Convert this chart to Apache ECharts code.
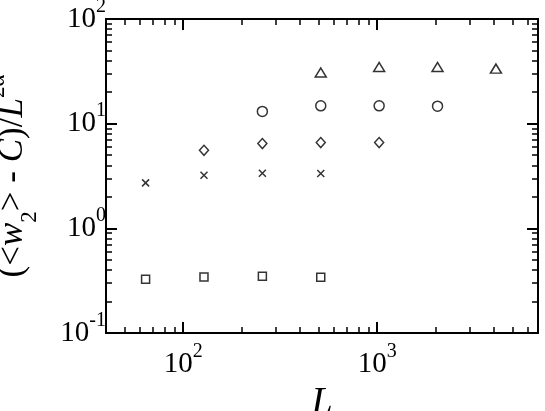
<!DOCTYPE html>
<html>
<head>
<meta charset="utf-8">
<script src="https://cdn.jsdelivr.net/npm/echarts@6/dist/echarts.min.js"></script>
<style>
    html, body { margin: 0; padding: 0; background: #fff; }
    .layer { width: 545px; height: 411px; position: absolute; left: 0; top: 0; }
    #ticks { pointer-events: none; }
</style>
</head>
<body>
<div class="layer" id="chart"></div>
<div class="layer" id="ticks"></div>
<script>
    // data
    const squareData = [[64, 0.327], [128, 0.342], [256, 0.348], [512, 0.340]];
    const crossData = [[64, 2.72], [128, 3.22], [256, 3.36], [512, 3.34]];
    const diamondData = [[128, 5.57], [256, 6.46], [512, 6.60], [1024, 6.60]];
    const circleData = [[256, 13.1], [512, 14.8], [1024, 14.8], [2048, 14.7]];
    const triangleData = [[512, 30.8], [1024, 34.8], [2048, 34.8], [4096, 33.6]];

    // ticks
    const xMajor = [100, 1000];
    const xMinor = [50, 60, 70, 80, 90, 200, 300, 400, 500, 600, 700, 800, 900, 2000, 3000, 4000, 5000, 6000];
    const yMajor = [0.1, 1, 10, 100];
    const yMinor = [0.2, 0.3, 0.4, 0.5, 0.6, 0.7, 0.8, 0.9, 2, 3, 4, 5, 6, 7, 8, 9, 20, 30, 40, 50, 60, 70, 80, 90];

    const xMin = 40, xMax = 6750;
    const yMin = 0.1, yMax = 100;

    const font = 'Liberation Serif';
    const black = '#000';
    const gridRect = { left: 106, right: 7, top: 19, bottom: 78, outerBoundsMode: 'none' };

    function powLabel (show, ticks, margin) {
        return {
            show: show,
            customValues: ticks,
            margin: margin,
            formatter: function (v) {
                return '{b|10}{s|' + Math.round(Math.log10(v)) + '}';
            },
            rich: {
                b: { fontFamily: font, fontSize: 29, color: black, padding: [10, 0, 10, 0] },
                s: { fontFamily: font, fontSize: 20, color: black, verticalAlign: 'top', padding: [2, 0, 10, 0] }
            }
        };
    }

    // axes of the main chart: frame, labels and titles
    function mainAxis (type, pos, withLabels) {
        return {
            type: 'log',
            position: pos,
            min: type === 'x' ? xMin : yMin,
            max: type === 'x' ? xMax : yMax,
            axisLine: { show: true, onZero: false, lineStyle: { color: black, width: 2 } },
            axisTick: { show: false },
            axisLabel: powLabel(withLabels, type === 'x' ? xMajor : yMajor, type === 'x' ? 7 : 0),
            splitLine: { show: false }
        };
    }

    // axes of the overlay: only tick marks
    function tickAxis (type, pos, ticks, len, width) {
        return {
            type: 'log',
            position: pos,
            min: type === 'x' ? xMin : yMin,
            max: type === 'x' ? xMax : yMax,
            axisLine: { show: true, onZero: false, lineStyle: { color: black, width: 2 } },
            axisTick: { show: true, inside: true, length: len, customValues: ticks, lineStyle: { color: black, width: width } },
            axisLabel: { show: false, customValues: ticks },
            splitLine: { show: false }
        };
    }

    const xAxes = [mainAxis('x', 'bottom', true), mainAxis('x', 'top', false)];
    xAxes[0].name = 'L';
    xAxes[0].nameLocation = 'middle';
    xAxes[0].nameGap = 47;
    xAxes[0].nameTextStyle = { fontFamily: font, fontSize: 38, fontStyle: 'italic', color: black };

    const yAxes = [mainAxis('y', 'left', true), mainAxis('y', 'right', false)];
    yAxes[0].name = '{a|(<}{i|w}{d|2}{a|> - }{i|C}{a|)/}{i|L}{u|2α}';
    yAxes[0].nameLocation = 'middle';
    yAxes[0].nameRotate = 90;
    yAxes[0].nameGap = 65;
    yAxes[0].nameTextStyle = {
        rich: {
            a: { fontFamily: font, fontSize: 35, color: black, padding: [11, 0, 11, 0] },
            i: { fontFamily: font, fontSize: 35, fontStyle: 'italic', color: black, padding: [11, 0, 11, 0] },
            d: { fontFamily: font, fontSize: 23, color: black, verticalAlign: 'bottom' },
            u: { fontFamily: font, fontSize: 23, color: black, verticalAlign: 'top', padding: [2, 0, 0, 0] }
        }
    };

    function scatterOf (data, symbol, size) {
        return {
            type: 'scatter',
            xAxisIndex: 0,
            yAxisIndex: 0,
            data: data,
            symbol: symbol,
            symbolSize: size,
            itemStyle: { color: 'rgba(255,255,255,0)', borderColor: black, borderWidth: 1.5 }
        };
    }

    const chart = echarts.init(document.getElementById('chart'));
    chart.setOption({
        backgroundColor: '#fff',
        animation: false,
        grid: gridRect,
        xAxis: xAxes,
        yAxis: yAxes,
        series: [
            scatterOf(squareData, 'rect', 8),
            scatterOf(crossData, 'path://M0,0L10,10M10,0L0,10', 7),
            scatterOf(diamondData, 'diamond', [9, 10]),
            scatterOf(circleData, 'circle', 10),
            scatterOf(triangleData, 'triangle', [11, 9])
        ]
    });

    const ticks = echarts.init(document.getElementById('ticks'));
    ticks.setOption({
        backgroundColor: 'transparent',
        animation: false,
        grid: gridRect,
        xAxis: [
            tickAxis('x', 'bottom', xMajor, 11, 2),
            tickAxis('x', 'bottom', xMinor, 6, 1.5),
            tickAxis('x', 'top', xMajor, 11, 2),
            tickAxis('x', 'top', xMinor, 6, 1.5)
        ],
        yAxis: [
            tickAxis('y', 'left', yMajor, 11, 2),
            tickAxis('y', 'left', yMinor, 6, 1.5),
            tickAxis('y', 'right', yMajor, 11, 2),
            tickAxis('y', 'right', yMinor, 6, 1.5)
        ],
        series: []
    });
</script>
</body>
</html>
